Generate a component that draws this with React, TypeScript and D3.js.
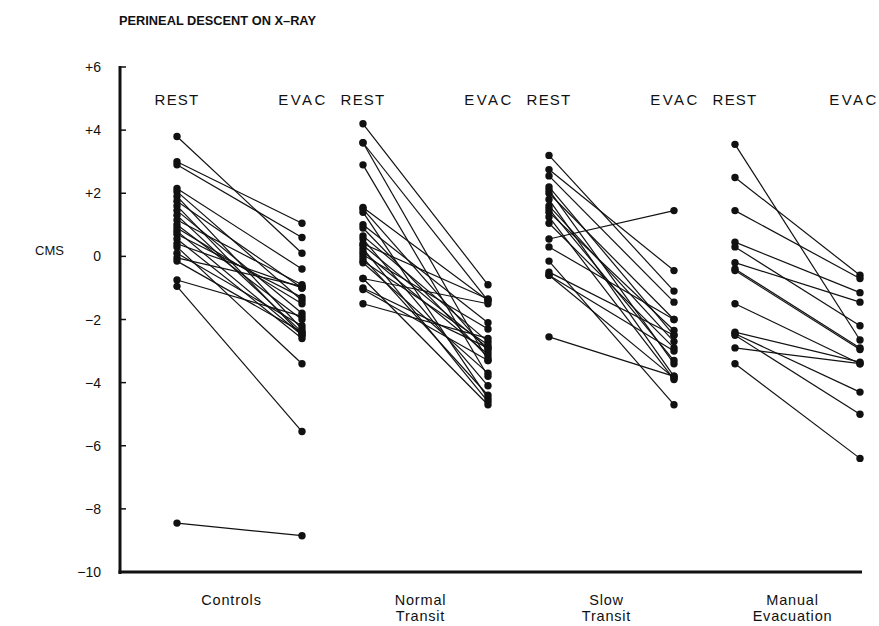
import * as d3 from 'd3'

// groups on the x axis
const groups = ['Controls', 'Normal Transit', 'Slow Transit', 'Manual Evacuation']
const groupLabels = [['Controls'], ['Normal', 'Transit'], ['Slow', 'Transit'], ['Manual', 'Evacuation']]
const phases = ['REST', 'EVAC']
const yTicks = [6, 4, 2, 0, -2, -4, -6, -8, -10]

// [rest, evac] pairs in cms
const controls = [
  [3.8, 0.1], [3.0, 1.05], [2.9, 0.6], [2.15, -0.4], [2.05, -1.4], [1.9, -2.3],
  [1.75, -1.0], [1.6, -2.5], [1.45, -1.8], [1.3, -2.4], [1.15, -0.9], [1.0, -2.0],
  [0.9, -1.5], [0.8, -2.5], [0.7, -1.3], [0.55, -2.6], [0.4, -1.0], [0.3, -3.4],
  [0.1, -2.2], [-0.05, -0.95], [-0.15, -2.4], [-0.75, -1.9], [-0.95, -5.55], [-8.45, -8.85],
]
const normalTransit = [
  [4.2, -0.9], [3.6, -1.4], [3.6, -3.3], [2.9, -3.8], [1.55, -1.4], [1.5, -3.0],
  [1.4, -4.5], [1.0, -2.1], [0.9, -3.2], [0.65, -2.7], [0.55, -4.1], [0.4, -1.35],
  [0.35, -2.9], [0.25, -4.6], [0.15, -3.1], [0.05, -2.3], [-0.05, -4.4], [-0.15, -2.8],
  [-0.2, -3.7], [-0.7, -1.5], [-0.7, -4.7], [-1.0, -2.9], [-1.05, -3.3], [-1.5, -2.6],
]
const slowTransit = [
  [3.2, -1.1], [2.75, -0.45], [2.55, -1.45], [2.2, -2.5], [2.1, -3.4], [2.0, -2.0],
  [1.8, -3.8], [1.6, -2.7], [1.5, -3.3], [1.4, -2.35], [1.25, -3.9], [1.05, -2.9],
  [0.55, 1.45], [0.3, -2.0], [-0.15, -4.7], [-0.5, -2.5], [-0.6, -3.0], [-0.6, -3.85],
  [-2.55, -3.8],
]
const manualEvacuation = [
  [3.55, -2.65], [2.5, -0.6], [1.45, -0.7], [0.45, -1.15], [0.3, -2.2], [-0.2, -1.45],
  [-0.4, -2.9], [-0.45, -2.95], [-1.5, -3.4], [-2.4, -3.35], [-2.45, -4.3], [-2.5, -5.0],
  [-2.9, -3.4], [-3.4, -6.4],
]
const series = [controls, normalTransit, slowTransit, manualEvacuation]

const width = 879
const height = 626
const font = 'Liberation Sans, Arial, Helvetica, sans-serif'

const App = () => {
  const x = d3.scalePoint().domain(groups).range([177, 735])
  const xPhase = d3.scalePoint().domain(phases).range([0, 125])
  const y = d3.scaleLinear().domain([-10, 6]).range([572, 67])
  const line = d3.line<[number, number]>()

  return (
    <svg
      width={width}
      height={height}
      style={{ position: 'absolute', left: 0, top: 0, background: '#fff' }}
      fontFamily={font}
    >
      {/* title */}
      <text x={119} y={25} fontSize={12.8} fontWeight="bold" fill="#111">
        PERINEAL DESCENT ON X–RAY
      </text>
      <text x={35} y={255} fontSize={13} fill="#111">CMS</text>

      {/* axes */}
      <line x1={120} x2={120} y1={y(6) - 1} y2={y(-10) + 2} stroke="#111" strokeWidth={3} />
      <line x1={118.5} x2={862} y1={y(-10)} y2={y(-10)} stroke="#111" strokeWidth={3} />
      {yTicks.map((t) => (
        <g key={t}>
          <line x1={120} x2={126} y1={y(t)} y2={y(t)} stroke="#111" strokeWidth={1.5} />
          <text x={101} y={y(t) + 5} fontSize={14} textAnchor="end" fill="#111">
            {t > 0 ? `+${t}` : t < 0 ? `−${-t}` : '0'}
          </text>
        </g>
      ))}

      {/* REST / EVAC headers */}
      {groups.map((g) =>
        phases.map((p) => (
          <text
            key={g + p}
            x={(x(g) ?? 0) + (xPhase(p) ?? 0) + (p === 'EVAC' ? (g === 'Manual Evacuation' ? -6 : 1) : 0)}
            y={105}
            fontSize={15}
            letterSpacing={p === 'EVAC' ? 2.5 : 1.2}
            textAnchor="middle"
            fill="#111"
          >
            {p}
          </text>
        ))
      )}

      {/* paired lines and dots */}
      {series.map((pairs, gi) => {
        const x0 = (x(groups[gi]) ?? 0) + (xPhase('REST') ?? 0)
        const x1 = (x(groups[gi]) ?? 0) + (xPhase('EVAC') ?? 0)
        return (
          <g key={groups[gi]}>
            {pairs.map((d, i) => (
              <path
                key={'l' + i}
                d={line([[x0, y(d[0])], [x1, y(d[1])]]) ?? ''}
                stroke="#111"
                strokeWidth={1.2}
                fill="none"
              />
            ))}
            {pairs.map((d, i) => (
              <g key={'c' + i}>
                <circle cx={x0} cy={y(d[0])} r={3.7} fill="#111" />
                <circle cx={x1} cy={y(d[1])} r={3.7} fill="#111" />
              </g>
            ))}
          </g>
        )
      })}

      {/* group labels */}
      {groups.map((g, gi) => {
        const cx = (x(g) ?? 0) + (xPhase('EVAC') ?? 0) / 2 - (gi === 0 ? 8 : 5)
        return groupLabels[gi].map((s, li) => (
          <text
            key={g + li}
            x={cx}
            y={605 + li * 16}
            fontSize={14.5}
            letterSpacing={0.8}
            textAnchor="middle"
            fill="#111"
          >
            {s}
          </text>
        ))
      })}
    </svg>
  )
}

export default App
